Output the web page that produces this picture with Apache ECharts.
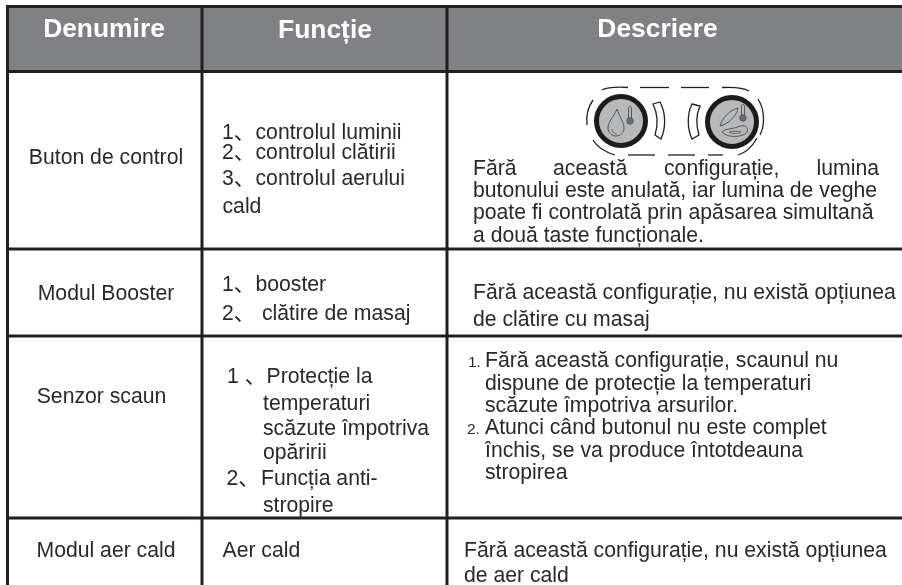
<!DOCTYPE html>
<html><head><meta charset="utf-8">
<style>html,body{margin:0;padding:0;background:#fff}#c{width:902px;height:585px}</style>
<script src="https://cdn.jsdelivr.net/npm/echarts@6/dist/echarts.min.js"></script>
</head><body><div id="c"></div>
<script>
var headers = ['Denumire', 'Funcție', 'Descriere'];
var names = ['Buton de control', 'Modul Booster', 'Senzor scaun', 'Modul aer cald'];
var markers = ['1、', '2、', '3、', '1、', '2、', '1 、', '2、'];
var funcs = ['controlul luminii', 'controlul clătirii', 'controlul aerului', 'cald', 'booster', 'clătire de masaj',
  'Protecție la', 'temperaturi', 'scăzute împotriva', 'opăririi', 'Funcția anti-', 'stropire', 'Aer cald'];
var justified = ['Fără', 'această', 'configurație,', 'lumina'];
var descs = ['butonului este anulată, iar lumina de veghe', 'poate fi controlată prin apăsarea simultană',
  'a două taste funcționale.', 'Fără această configurație, nu există opțiunea', 'de clătire cu masaj',
  'Fără această configurație, scaunul nu', 'dispune de protecție la temperaturi', 'scăzute împotriva arsurilor.',
  'Atunci când butonul nu este complet', 'închis, se va produce întotdeauna', 'stropirea',
  'Fără această configurație, nu există opțiunea', 'de aer cald'];
var steps = ['1.', '2.'];

var FONT = '"Liberation Sans", "Noto Sans CJK SC", Arial, sans-serif';
var INK = '#2a2829', LINE = '#231f20', BODY = 21.2;
var g = [], paths = [];
function t(text, x, y, o) {
  o = o || {};
  g.push({ type: 'text', silent: true, z: 5, x: x, y: y, style: {
    text: text, fill: o.fill || INK, align: o.align || 'left', verticalAlign: 'middle',
    font: (o.weight || 'normal') + ' ' + (o.size || BODY) + 'px ' + FONT } });
}
function rect(x, y, w, h, fill) {
  g.push({ type: 'rect', silent: true, z: 2, shape: { x: x, y: y, width: w, height: h }, style: { fill: fill } });
}
function path(d, o) {
  o = o || {};
  paths.push({ type: 'path', shape: { pathData: d },
    style: { fill: o.fill || 'none', stroke: o.stroke || LINE, lineWidth: o.w || 1.3 } });
}
function circle(cx, cy, r, fill, stroke, w) {
  paths.push({ type: 'circle', shape: { cx: cx, cy: cy, r: r },
    style: { fill: fill, stroke: stroke || 'none', lineWidth: w || 0 } });
}

// header band and grid
rect(8, 6, 894, 66, '#808184');
[6.5, 71.5, 249, 336, 518].forEach(function (y) { rect(6, y - 1.5, 896, 3, LINE); });
[7.5, 202, 447].forEach(function (x) { rect(x - 1.5, 5, 3, 580, LINE); });

// headers
[104, 325, 657.5].forEach(function (x, i) { t(headers[i], x, [29.5, 31, 29.5][i], { align: 'center', size: 26.4, weight: 'bold', fill: '#fff' }); });

// first column
[[106, 158.5], [106, 294.5], [101.5, 397.5], [106, 551.5]].forEach(function (p, i) { t(names[i], p[0], p[1], { align: 'center' }); });

// second column markers and lines
[[222, 133.5], [222, 153.5], [222, 179.5], [222, 285.5], [222, 314.5], [227, 377.5], [226.5, 479.5]].forEach(function (p, i) {
  t(markers[i], p[0], p[1]);
});
[[255.5, 133.5], [255.5, 153.5], [255.5, 179.5], [222.5, 207.5], [255.5, 285.5], [262, 314.5],
 [266.5, 377.5], [263, 404.5], [263, 429.5], [263, 453.5], [261, 479.5], [263, 506], [222.5, 551.5]].forEach(function (p, i) {
  t(funcs[i], p[0], p[1]);
});

// third column
t(justified[0], 473, 169.5); t(justified[1], 553, 169.5); t(justified[2], 664, 169.5); t(justified[3], 879, 169.5, { align: 'right' });
[[473, 191.5], [473, 213.5], [473, 236.5], [473, 293.5], [473, 320.5], [485, 361.5], [485, 384.5], [485, 406.5], [485, 428.5], [485, 451.5], [485, 473.5], [464, 551.5], [464, 576.5]]
  .forEach(function (p, i) { t(descs[i], p[0], p[1]); });
t(steps[0], 468, 362.5, { size: 15.5 }); t(steps[1], 467, 429.5, { size: 15.5 });

// button illustration: dashed outline
['M587 125 C586 116 588 107 593 100', 'M602 90 C608 87 620 87 628 87.5', 'M640 87.5 L669 87.5', 'M681 87.5 L709 87.5',
 'M722 87.5 C732 87 744 88 749 91', 'M758 99 C765 110 765 125 760 135', 'M757 138 C752 147 745 153 738 155',
 'M723 155 L708 155', 'M695 155 L668 155', 'M655 155 L628 155', 'M615 155 C605 152 597 147 593 140'
].forEach(function (d) { path(d, { w: 1.3 }); });

// buttons
circle(621, 121, 24.5, '#b7b8ba', '#1c1a1b', 5);
circle(732, 122, 24.5, '#b7b8ba', '#1c1a1b', 5);

// brackets
path('M653 104 L660 102 C666 113 666 128 661 139 L655 135 C658 125 658 114 653 104 Z');
path('M692 104 L700 106 C696 115 696 125 699 135 L692 139 C687 128 687 114 692 104 Z');

// drop + thermometer
var GLY = '#55565a';
path('M617 109 C614 116 608 122 608 128 C608 133 612 136 616 136 C621 136 624 132 624 128 C624 122 619 116 617 109 Z', { stroke: GLY, w: 1 });
path('M612 129 C612 132 614 134 617 134', { stroke: GLY, w: 0.8 });
path('M628.5 119 L628.5 108 C628.5 106 631.5 106 631.5 108 L631.5 119', { stroke: GLY, w: 1 });
circle(630, 121, 3.2, '#6a6b6e', GLY, 1);
// seat + thermometer
path('M720 126 C722 118 730 110 738 108 C737 116 728 124 720 126 Z', { stroke: GLY, w: 1 });
path('M722 132 C726 128 735 129 740 126 C747 124 750 131 745 134 C738 138 726 137 722 132 Z', { stroke: GLY, w: 1 });
path('M729 132 C733 131 738 131 741 132 C738 134 733 134 729 132 Z', { stroke: GLY, w: 0.8 });
path('M741.5 116 L741.5 106 C741.5 104 744.5 104 744.5 106 L744.5 116', { stroke: GLY, w: 1 });
circle(743, 118, 3.2, '#6a6b6e', GLY, 1);

var chart = echarts.init(document.getElementById('c'), null, { renderer: 'canvas' });
chart.setOption({
  backgroundColor: '#fff', animation: false,
  graphic: { elements: g },
  series: [{ type: 'custom', coordinateSystem: 'none', silent: true, z: 6, data: [0],
    renderItem: function () { return { type: 'group', children: paths }; } }]
});
</script></body></html>
